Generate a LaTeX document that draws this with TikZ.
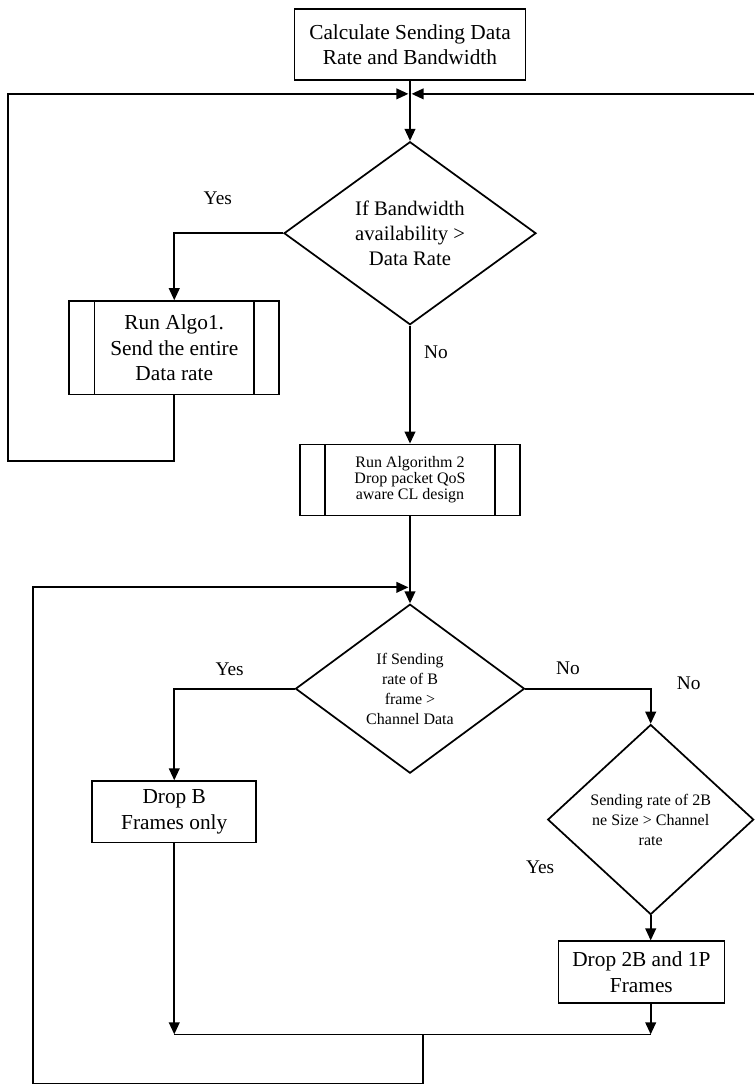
\documentclass[tikz,border=0pt]{standalone}
\usepackage{fontspec}
\setmainfont{Liberation Serif}
\usepackage{tikz}
\usetikzlibrary{positioning, arrows.meta, shapes.geometric}

\begin{document}
\begin{tikzpicture}[
    line width=1.3pt,
    box/.style={
        draw,
        align=center,
        inner sep=2pt,
        font=\fontsize{16}{19}\selectfont
    },
    proc/.style={
        box,
        path picture={
            \draw ([xshift=19pt]path picture bounding box.north west) -- ([xshift=19pt]path picture bounding box.south west);
            \draw ([xshift=-19pt]path picture bounding box.north east) -- ([xshift=-19pt]path picture bounding box.south east);
        }
    },
    decision/.style={
        draw,
        diamond,
        align=center,
        inner sep=0pt,
        font=\fontsize{15.5}{19}\selectfont
    },
    smalltext/.style={font=\fontsize{12}{15}\selectfont},
    arrow/.style={-{Triangle[length=9pt,width=8pt]}},
    lbl/.style={font=\fontsize{14.5}{17}\selectfont, inner sep=1pt}
]
\useasboundingbox (-307.5pt,33.375pt) rectangle (258pt,-780.375pt);

%  Start node
\node[box, minimum width=173.25pt, minimum height=53.25pt] (calc) at (0,0) {Calculate Sending Data\\Rate and Bandwidth};
\coordinate[below=9.75pt of calc] (join1);
\coordinate[right=258pt of join1] (rightend);

%  Bandwidth check
\node[decision, minimum width=189pt, minimum height=137.25pt] (bw) [below=45pt of calc] {If Bandwidth\\availability >\\Data Rate};
\node[proc, minimum width=157.5pt, minimum height=70pt] (algo1) [below left=50.25pt and 2.25pt of bw.west] {Run Algo1.\\Send the entire\\Data rate};
\node[proc, font=\fontsize{12}{12}\selectfont, minimum width=165pt, minimum height=53.25pt] (algo2) [below=88.5pt of bw] {Run Algorithm 2\\Drop packet QoS\\aware CL design};
\coordinate[below=53.25pt of algo2] (join2);

%  Frame checks
\node[decision, smalltext, minimum width=171.75pt, minimum height=126.75pt] (bframe) [below=65.25pt of algo2] {If Sending\\rate of B\\frame >\\Channel Data};
\node[box, minimum width=123pt, minimum height=46pt] (dropb) [below=288.75pt of algo1] {Drop B\\Frames only};
\node[decision, smalltext, minimum width=154.5pt, minimum height=142.5pt] (pframe) [below=26.25pt of bframe.east, xshift=94pt] {Sending rate of 2B\\ne Size > Channel\\rate};
\node[box, minimum width=124.5pt, minimum height=46.5pt] (dropbp) [below=18.75pt of pframe, xshift=-7pt] {Drop 2B and 1P\\Frames};
\node[lbl] (yes3) [below=29pt of pframe.west, xshift=-5pt] {Yes};
\node[lbl] (no3) [above right=24pt and 18pt of pframe.north] {No};

\coordinate[below=143.25pt of dropb] (mergeL);
\path (mergeL -| join2) ++(9.75pt,0) coordinate (loopstart);

%  Arrows
\draw[arrow] (calc) -- (bw);
\draw[arrow, shorten >=1.2pt] (rightend) -- (join1);
\draw[arrow] (bw.west) -| node[lbl, pos=0.3, above=20pt]{Yes} (algo1.north);
\draw[arrow] (bw) -- node[lbl, pos=0.23, right=9pt]{No} (algo2);
\draw[arrow, shorten >=1.2pt] (algo1.south) -- ++(0,-49.5pt) -- ++(-124.5pt,0) |- (join1);

\draw[arrow] (algo2) -- (bframe);
\draw[arrow] (bframe.west) -| node[lbl, pos=0.27, above=8pt]{Yes} (dropb.north);
\draw[arrow] (bframe.east) -| node[lbl, pos=0.17, above=9pt]{No} (pframe.north);
\draw[arrow] (pframe.south) -- (pframe.south |- dropbp.north);
\draw[arrow] (dropb) -- (mergeL);
\draw[arrow] (pframe.south |- dropbp.south) -- (pframe.south |- mergeL);
\draw (mergeL) -- (pframe.south |- mergeL);
\draw[arrow, shorten >=1.2pt] (loopstart) -- ++(0,-36.75pt) -- ++(-292.5pt,0) |- (join2);

\end{tikzpicture}
\end{document}
